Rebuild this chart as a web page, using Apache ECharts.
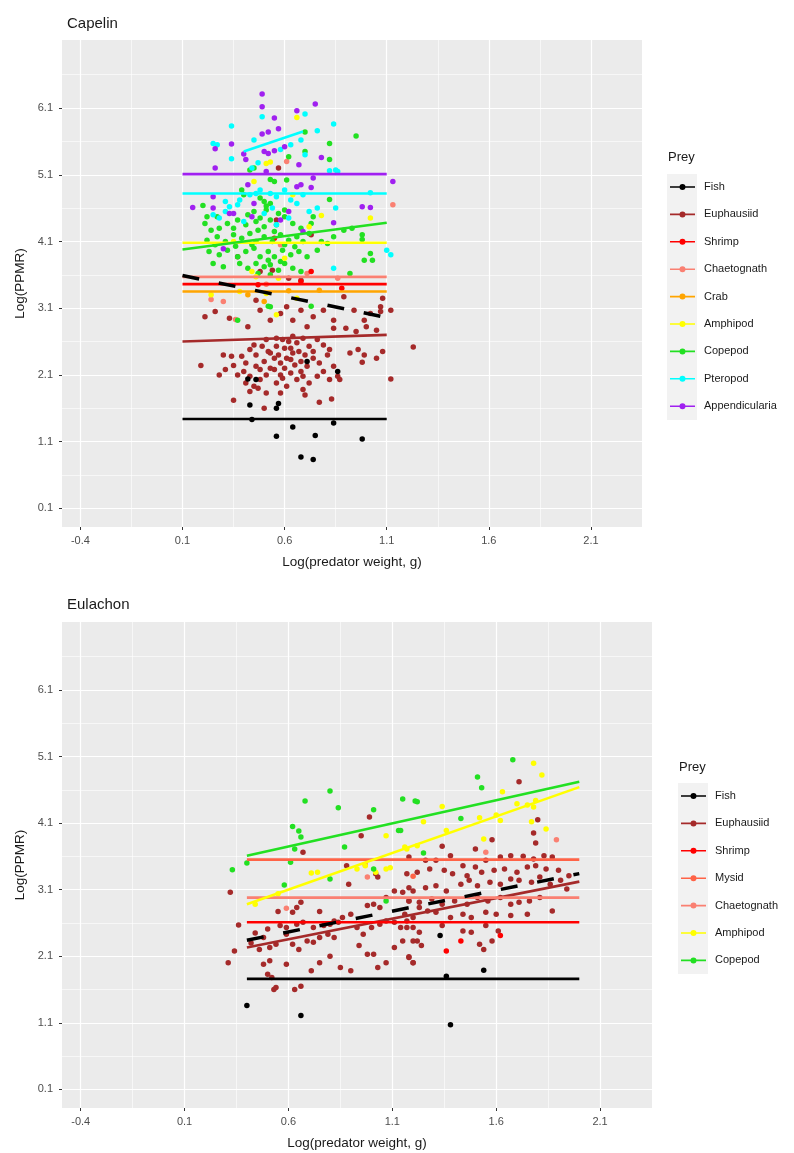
<!DOCTYPE html>
<html>
<head>
<meta charset="utf-8">
<script src="https://cdn.jsdelivr.net/npm/echarts@6/dist/echarts.min.js"></script>
<style>
  html, body { margin: 0; padding: 0; background: #fff; }
  #chart { width: 794px; height: 1153px; }
</style>
</head>
<body>
<div id="chart"></div>
<script>
// axis ticks
const xTicks = [-0.4, 0.1, 0.6, 1.1, 1.6, 2.1];
const xMinor = [-0.15, 0.35, 0.85, 1.35, 1.85];
const yTicks = [0.1, 1.1, 2.1, 3.1, 4.1, 5.1, 6.1];
const yMinor = [0.6, 1.6, 2.6, 3.6, 4.6, 5.6, 6.6];
const xRange = [-0.49, 2.35];
const yRange = [-0.18, 7.12];

const preyColors = {
  Fish: '#000000', Euphausiid: '#A52A2A', Shrimp: '#FF0000', Mysid: '#FF6347',
  Chaetognath: '#FA8072', Crab: '#FFA500', Amphipod: '#FFFF00', Copepod: '#22E022',
  Pteropod: '#00FFFF', Appendicularia: '#A020F0'
};
const capPrey = ['Fish', 'Euphausiid', 'Shrimp', 'Chaetognath', 'Crab', 'Amphipod', 'Copepod', 'Pteropod', 'Appendicularia'];
const eulPrey = ['Fish', 'Euphausiid', 'Shrimp', 'Mysid', 'Chaetognath', 'Amphipod', 'Copepod'];

// ---- Capelin points [log weight, log PPMR]
const capEuphausiid = [[0.19,2.24],[0.30,2.40],[0.34,2.38],[0.35,2.24],[0.39,2.38],[0.41,2.28],[0.43,2.48],[0.46,2.40],[0.49,2.53],[0.51,2.63],
  [0.28,2.10],[0.31,2.18],[0.37,2.10],[0.40,2.15],[0.43,2.08],[0.46,2.23],[0.50,2.30],[0.53,2.43],[0.56,2.53],[0.59,2.63],[0.63,2.50],[0.66,2.58],[0.69,2.65],[0.72,2.53],[0.76,2.63],[0.79,2.55],[0.82,2.48],
  [0.41,1.98],[0.45,1.93],[0.48,2.03],[0.51,2.10],[0.55,2.18],[0.58,2.28],[0.61,2.35],[0.64,2.43],[0.68,2.30],[0.71,2.23],[0.74,2.35],[0.77,2.28],[0.81,2.40],[0.84,2.23],
  [0.43,1.85],[0.47,1.90],[0.51,1.83],[0.56,1.98],[0.59,2.05],[0.63,2.13],[0.66,2.03],[0.69,2.08],[0.72,1.98],[0.76,2.08],[0.79,2.15],[0.82,2.03],[0.86,2.08],[0.87,2.03],
  [0.35,1.72],[0.50,1.60],[0.58,1.83],[0.61,1.93],[0.69,1.88],[0.70,1.80],[0.77,1.69],[0.83,1.74],
  [0.92,2.43],[0.96,2.48],[0.99,2.40],[0.98,2.29],[1.05,2.35],[1.08,2.45],[1.23,2.52],[1.12,2.04],
  [0.55,2.35],[0.60,2.20],[0.65,2.25],[0.57,2.40],[0.62,2.60],[0.53,2.20],[0.67,2.45],[0.70,2.40],[0.48,2.18],[0.58,2.10],[0.52,2.45],[0.64,2.68],[0.56,2.65],[0.74,2.45],[0.45,2.55],[0.68,2.15],[0.60,2.50],[0.63,2.33],
  [0.33,2.95],[0.42,2.82],[0.46,3.22],[0.48,3.07],[0.53,2.92],[0.58,3.02],[0.61,3.12],[0.64,2.92],[0.68,3.07],[0.71,2.82],[0.74,2.97],[0.79,3.07],[0.84,2.92],[0.89,3.27],[0.94,3.07],[0.99,2.92],[1.02,3.02],[1.07,3.12],[1.08,3.25],[1.12,3.07],[0.84,2.80],[0.90,2.80],[0.95,2.75],[1.00,2.82],[1.05,2.77],
  [0.57,5.20],[0.56,4.42],[0.73,4.20],[0.37,3.87],[0.48,3.65],[0.54,3.67],[0.62,3.55],[0.68,3.52],[0.26,3.05],[0.21,2.97],[1.07,3.05]];
const capFish = [[0.43,1.65],[0.42,2.04],[0.46,2.03],[0.57,1.67],[0.56,1.60],[0.86,2.15],[0.71,2.30],[0.44,1.43],[0.84,1.38],[0.64,1.32],[0.56,1.18],[0.75,1.19],[0.98,1.14],[0.68,0.87],[0.74,0.83]];
const capChaetognath = [[0.61,5.30],[1.13,4.65],[0.24,3.23],[0.30,3.20],[0.51,3.46],[0.71,3.62],[0.86,3.55],[0.36,2.93],[0.58,4.05]];
const capShrimp = [[0.47,3.45],[0.68,3.50],[0.88,3.40],[0.55,4.15],[0.73,3.65]];
const capCrab = [[0.62,3.36],[0.42,3.30],[0.77,3.37],[0.50,3.20]];
const capCopepod = [[0.95,5.68],[0.82,5.57],[0.70,5.74],[0.70,5.45],[0.82,5.33],[0.62,5.37],[0.43,5.17],[0.45,5.20],[0.53,5.03],[0.55,5.00],[0.61,5.02],[0.20,4.64],[0.39,4.87],[0.40,4.80],[0.48,4.75],[0.50,4.70],[0.51,4.63],[0.51,4.57],[0.53,4.67],[0.60,4.57],[0.82,4.73],[0.22,4.47],[0.27,4.47],[0.74,4.47],
  [0.21,4.37],[0.24,4.27],[0.28,4.30],[0.32,4.37],[0.37,4.42],[0.41,4.35],[0.46,4.40],[0.50,4.32],[0.53,4.42],[0.56,4.35],[0.60,4.47],[0.64,4.37],[0.68,4.30],[0.73,4.37],
  [0.22,4.12],[0.27,4.17],[0.31,4.10],[0.35,4.20],[0.39,4.15],[0.43,4.22],[0.46,4.10],[0.50,4.17],[0.54,4.10],[0.58,4.20],[0.62,4.12],[0.66,4.17],[0.69,4.10],
  [0.23,3.95],[0.28,3.90],[0.32,3.97],[0.37,3.87],[0.41,3.95],[0.45,4.00],[0.48,3.87],[0.52,3.95],[0.55,3.87],[0.59,3.97],[0.63,3.90],[0.67,3.95],[0.71,3.87],
  [0.25,3.77],[0.30,3.72],[0.38,3.77],[0.42,3.70],[0.46,3.77],[0.50,3.72],[0.53,3.75],[0.57,3.67],[0.60,3.77],[0.64,3.70],[0.68,3.65],
  [0.76,3.97],[0.81,4.07],[0.84,4.17],[0.89,4.27],[0.93,4.30],[0.98,4.20],[0.98,4.13],[1.02,3.92],[1.03,3.82],[0.99,3.82],[0.92,3.62],
  [0.37,2.92],[0.53,3.12],[0.73,3.13],[0.52,3.13],
  [0.45,4.55],[0.57,4.52],[0.48,4.45],[0.42,4.50],[0.55,4.25],[0.47,4.27],[0.60,4.05],[0.44,4.05],[0.36,4.03],[0.52,3.82],[0.58,3.80],[0.26,4.05],[0.65,4.02],[0.72,4.22],[0.78,4.10],[0.35,4.30],[0.53,3.60],[0.47,3.62]];
const capAmphipod = [[0.66,5.96],[0.51,5.27],[0.53,5.29],[0.78,4.49],[1.02,4.45],[0.44,3.65],[0.46,3.57],[0.51,3.32],[0.56,3.00],[0.66,3.25],[0.60,3.85],[0.35,4.10],[0.57,3.55],[0.72,4.32],[0.45,5.00],[0.64,4.80],[0.38,3.35],[0.24,3.30]];
const capPteropod = [[0.49,5.97],[0.70,6.01],[0.34,5.83],[0.84,5.86],[0.76,5.76],[0.25,5.57],[0.27,5.55],[0.34,5.34],[0.45,5.62],[0.47,5.28],[0.70,5.40],[0.82,5.16],[0.85,5.17],
  [0.31,4.70],[0.33,4.62],[0.37,4.65],[0.38,4.72],[0.43,4.80],[0.46,4.82],[0.48,4.87],[0.53,4.82],[0.56,4.77],[0.60,4.87],[0.63,4.72],[0.66,4.67],[0.69,4.80],[0.76,4.60],[0.85,4.60],[1.02,4.83],
  [0.44,5.20],[1.10,3.97],[1.12,3.90],[0.84,3.70],[0.25,4.50],[0.28,4.45],[0.31,4.55],[0.50,4.52],[0.54,4.60],[0.40,4.40],[0.62,4.45],[0.56,4.35],[0.72,4.55],[0.86,5.15],[0.58,5.48],[0.63,5.55],[0.68,5.62]];
const capAppendicularia = [[0.49,6.31],[0.49,6.12],[0.75,6.16],[0.66,6.06],[0.55,5.95],[0.57,5.79],[0.49,5.71],[0.52,5.74],[0.34,5.56],[0.26,5.49],[0.40,5.41],[0.41,5.33],[0.50,5.45],[0.52,5.42],[0.55,5.46],[0.60,5.52],[0.78,5.36],[0.26,5.20],[0.67,5.25],[0.51,5.15],[0.74,5.05],[1.13,5.00],
  [0.25,4.77],[0.42,4.95],[0.66,4.92],[0.68,4.95],[0.73,4.91],[0.15,4.61],[0.25,4.60],[0.45,4.67],[0.98,4.62],[1.02,4.61],[0.33,4.52],[0.35,4.52],[0.84,4.38],[0.30,3.99],[0.44,4.47],[0.58,4.42],[0.62,4.55],[0.69,4.25]];

// ---- Capelin fitted lines [start, end]
const capLineFish = [[0.1,1.44],[1.1,1.44]];
const capLineEuphausiid = [[0.1,2.60],[1.1,2.70]];
const capLineShrimp = [[0.1,3.46],[1.1,3.46]];
const capLineChaetognath = [[0.1,3.57],[1.1,3.57]];
const capLineCrab = [[0.1,3.35],[1.1,3.35]];
const capLineAmphipod = [[0.1,4.08],[1.1,4.08]];
const capLineCopepod = [[0.1,3.98],[1.1,4.38]];
const capLinePteropod = [[0.1,4.82],[1.1,4.82]];
const capLinePteropodShort = [[0.40,5.45],[0.69,5.75]];
const capLineAppendicularia = [[0.1,5.11],[1.1,5.11]];
const capLineAll = [[0.1,3.59],[1.1,2.96]];

// ---- Eulachon points
const eulEuphausiid = [[0.32,3.06],[0.36,2.57],[0.34,2.18],[0.31,2.00],[0.62,2.76],[0.64,2.83],[0.66,2.91],[0.55,2.77],[0.75,2.77],[0.80,2.58],[0.84,2.61],[0.88,3.46],[0.89,3.18],[0.99,4.19],[0.95,3.91],[0.67,3.66],[1.02,3.34],[1.03,3.29],
  [0.98,2.86],[1.01,2.88],[1.04,2.83],[1.07,2.98],[1.11,3.08],[1.15,3.06],[1.18,2.93],[1.20,3.08],[1.23,2.83],
  [0.48,2.38],[0.51,2.23],[0.54,2.28],[0.59,2.43],[0.62,2.28],[0.65,2.20],[0.69,2.33],[0.72,2.31],[0.75,2.38],[0.79,2.43],[0.82,2.38],
  [0.48,1.98],[0.51,2.03],[0.50,1.83],[0.52,1.78],[0.53,1.60],[0.54,1.63],[0.59,1.98],[0.63,1.60],[0.66,1.65],
  [0.71,1.88],[0.75,2.00],[0.80,2.10],[0.85,1.93],[0.90,1.88],[0.94,2.26],[0.98,2.13],[1.01,2.13],[1.03,1.93],[1.07,2.00],[1.11,2.23],[1.15,2.33],[1.18,2.08],[1.20,2.00],[1.22,2.33],
  [0.93,2.53],[0.96,2.43],[1.00,2.53],[1.04,2.58],[1.07,2.63],[1.11,2.61],[1.14,2.53],[1.17,2.63],[1.20,2.53],
  [0.50,2.51],[0.56,2.56],[0.59,2.53],[0.64,2.58],[0.67,2.61],[0.72,2.53],[0.77,2.56],[0.82,2.63],[0.86,2.68],[0.90,2.73],[0.42,2.30],[0.44,2.45],[0.46,2.20],
  [1.71,4.72],[1.80,4.15],[1.78,3.95],[1.79,3.80],[1.58,3.85],[1.34,3.75],[1.50,3.71],
  [1.18,3.59],[1.26,3.54],[1.31,3.54],[1.38,3.61],[1.44,3.46],[1.50,3.44],[1.55,3.54],[1.62,3.59],[1.67,3.61],[1.73,3.60],[1.78,3.56],[1.83,3.61],[1.87,3.59],
  [1.17,3.34],[1.22,3.36],[1.28,3.41],[1.35,3.39],[1.39,3.34],[1.46,3.31],[1.53,3.36],[1.59,3.39],[1.64,3.41],[1.70,3.36],[1.75,3.44],[1.79,3.46],[1.84,3.41],[1.90,3.39],[1.95,3.31],
  [1.18,3.13],[1.26,3.13],[1.31,3.16],[1.36,3.08],[1.43,3.18],[1.47,3.24],[1.51,3.16],[1.57,3.21],[1.62,3.18],[1.67,3.26],[1.71,3.24],[1.77,3.21],[1.81,3.29],[1.86,3.18],[1.91,3.24],[1.94,3.11],
  [1.18,2.93],[1.23,2.91],[1.29,2.96],[1.34,2.88],[1.40,2.93],[1.46,2.88],[1.51,2.98],[1.56,2.93],[1.62,2.98],[1.67,2.88],[1.71,2.91],[1.76,2.93],[1.81,2.98],[1.87,2.78],
  [1.16,2.73],[1.20,2.68],[1.27,2.78],[1.31,2.76],[1.38,2.68],[1.44,2.73],[1.48,2.68],[1.55,2.76],[1.60,2.73],[1.67,2.71],[1.75,2.73],
  [1.17,2.53],[1.23,2.46],[1.34,2.56],[1.44,2.48],[1.48,2.46],[1.55,2.56],[1.61,2.48],
  [1.20,2.33],[1.24,2.26],[1.52,2.28],[1.58,2.33],[1.54,2.20],[1.18,2.09],[1.20,2.00]];
const eulFish = [[0.40,1.36],[0.66,1.21],[1.38,1.07],[1.36,1.80],[1.54,1.89],[1.33,2.41]];
const eulShrimp = [[1.62,2.41],[1.43,2.33],[1.36,2.18]];
const eulMysid = [[0.97,3.47],[1.20,3.30]];
const eulChaetognath = [[0.98,3.29],[1.89,3.85],[1.55,3.66],[0.59,2.82]];
const eulAmphipod = [[1.07,3.91],[0.71,3.35],[0.74,3.36],[0.93,3.41],[0.97,3.46],[1.02,3.36],[1.07,3.41],[1.09,3.43],[0.55,3.04],[0.44,2.88],[1.22,3.76],[1.17,3.71],
  [1.78,5.00],[1.82,4.82],[1.63,4.57],[1.34,4.35],[1.25,4.12],[1.52,4.18],[1.60,4.22],[1.62,4.14],[1.70,4.39],[1.75,4.37],[1.78,4.34],[1.79,4.44],[1.77,4.12],[1.84,4.01],[1.36,3.99],[1.54,3.86],[1.16,3.74]];
const eulCopepod = [[0.80,4.58],[0.68,4.43],[0.84,4.33],[1.01,4.30],[1.15,4.46],[1.22,4.42],[0.62,4.05],[0.65,3.98],[0.66,3.89],[0.63,3.71],[0.87,3.74],[1.13,3.99],[0.40,3.50],[0.33,3.40],[0.58,3.17],[0.80,3.26],[1.01,3.41],[0.61,3.51],[1.07,2.93],
  [1.68,5.05],[1.51,4.79],[1.53,4.63],[1.21,4.43],[1.43,4.17],[1.25,3.65],[1.14,3.99]];

// ---- Eulachon fitted lines
const eulLineFish = [[0.4,1.76],[2.0,1.76]];
const eulLineEuphausiid = [[0.4,2.23],[2.0,3.22]];
const eulLineShrimp = [[0.4,2.61],[2.0,2.61]];
const eulLineMysid = [[0.4,3.55],[2.0,3.55]];
const eulLineChaetognath = [[0.4,2.98],[2.0,2.98]];
const eulLineAmphipod = [[0.4,2.88],[2.0,4.64]];
const eulLineCopepod = [[0.4,3.61],[2.0,4.72]];
const eulLineAll = [[0.4,2.34],[2.0,3.34]];

const font = '"Liberation Sans", Arial, sans-serif';
const legendIcon = 'path://M0,2.2h25v1.6h-25z M12.5,0a3,3 0 1,1 -0.01,0z';

function majorX(g) {
  return {
    type: 'value', gridIndex: g, min: xRange[0], max: xRange[1], position: 'bottom',
    axisLine: { show: false, onZero: false },
    axisTick: { show: true, customValues: xTicks, length: 3, lineStyle: { color: '#333', width: 1 } },
    axisLabel: { customValues: xTicks, color: '#4d4d4d', fontSize: 11, fontFamily: font, margin: 8,
      formatter: v => v.toFixed(1) },
    splitLine: { show: true, lineStyle: { color: '#fff', width: 1.2 } },
    name: 'Log(predator weight, g)', nameLocation: 'middle', nameGap: 28,
    nameTextStyle: { color: '#1a1a1a', fontSize: 13.5, fontFamily: font }
  };
}
function minorX(g) {
  return {
    type: 'value', gridIndex: g, min: xRange[0], max: xRange[1], position: 'top',
    axisLine: { show: false, onZero: false }, axisLabel: { show: false },
    axisTick: { show: false, customValues: xMinor },
    splitLine: { show: true, lineStyle: { color: '#fff', width: 0.6 } }
  };
}
function majorY(g) {
  return {
    type: 'value', gridIndex: g, min: yRange[0], max: yRange[1], position: 'left',
    axisLine: { show: false, onZero: false },
    axisTick: { show: true, customValues: yTicks, length: 3, lineStyle: { color: '#333', width: 1 } },
    axisLabel: { customValues: yTicks, color: '#4d4d4d', fontSize: 11, fontFamily: font, margin: 9,
      formatter: v => v.toFixed(1) },
    splitLine: { show: true, lineStyle: { color: '#fff', width: 1.2 } },
    name: 'Log(PPMR)', nameLocation: 'middle', nameGap: 33,
    nameTextStyle: { color: '#1a1a1a', fontSize: 13.5, fontFamily: font }
  };
}
function minorY(g) {
  return {
    type: 'value', gridIndex: g, min: yRange[0], max: yRange[1], position: 'right',
    axisLine: { show: false, onZero: false }, axisLabel: { show: false },
    axisTick: { show: false, customValues: yMinor },
    splitLine: { show: true, lineStyle: { color: '#fff', width: 0.6 } }
  };
}

function pts(name, data, g) {
  return {
    type: 'scatter', name: name, data: data, xAxisIndex: g * 2, yAxisIndex: g * 2,
    symbolSize: 5.5, itemStyle: { color: preyColors[name], opacity: 1 }, silent: true
  };
}
function fit(name, data, g, color, dashed) {
  return {
    type: 'line', name: name, data: data, xAxisIndex: g * 2, yAxisIndex: g * 2,
    symbol: 'none', silent: true,
    lineStyle: dashed ? { color: color, width: 3.5, type: [17, 20] } : { color: color, width: 2.6 }
  };
}
function legendFor(names, left, top) {
  return {
    orient: 'vertical', left: left, top: top, padding: 0, itemWidth: 25, itemHeight: 6, itemGap: 13.4,
    selectedMode: false,
    textStyle: { fontSize: 11, color: '#1a1a1a', fontFamily: font, lineHeight: 14, padding: [0, 0, 0, 4] },
    data: names.map(n => ({ name: n, icon: legendIcon, itemStyle: { color: preyColors[n], borderWidth: 0 } }))
  };
}

const chart = echarts.init(document.getElementById('chart'), null, { renderer: 'canvas' });
chart.setOption({
  animation: false,
  backgroundColor: '#fff',
  title: [
    { text: 'Capelin', left: 62, top: 11, textStyle: { fontSize: 15, fontWeight: 'normal', color: '#1a1a1a', fontFamily: font } },
    { text: 'Eulachon', left: 62, top: 592, textStyle: { fontSize: 15, fontWeight: 'normal', color: '#1a1a1a', fontFamily: font } },
    { text: 'Prey', left: 663, top: 146, textStyle: { fontSize: 13, fontWeight: 'normal', color: '#1a1a1a', fontFamily: font } },
    { text: 'Prey', left: 674, top: 756, textStyle: { fontSize: 13, fontWeight: 'normal', color: '#1a1a1a', fontFamily: font } }
  ],
  graphic: [
    { type: 'rect', left: 667, top: 174, shape: { width: 30, height: 246 }, style: { fill: '#F2F2F2' }, z: -1 },
    { type: 'rect', left: 678, top: 783, shape: { width: 30, height: 191 }, style: { fill: '#F2F2F2' }, z: -1 }
  ],
  legend: [legendFor(capPrey, 670, 180), legendFor(eulPrey, 681, 789)],
  grid: [
    { left: 62, top: 40, width: 580, height: 487, show: true, backgroundColor: '#EBEBEB', borderWidth: 0 },
    { left: 62, top: 622, width: 590, height: 486, show: true, backgroundColor: '#EBEBEB', borderWidth: 0 }
  ],
  xAxis: [majorX(0), minorX(0), majorX(1), minorX(1)],
  yAxis: [majorY(0), minorY(0), majorY(1), minorY(1)],
  series: [
    pts('Euphausiid', capEuphausiid, 0),
    pts('Fish', capFish, 0),
    pts('Chaetognath', capChaetognath, 0),
    pts('Shrimp', capShrimp, 0),
    pts('Crab', capCrab, 0),
    pts('Copepod', capCopepod, 0),
    pts('Amphipod', capAmphipod, 0),
    pts('Pteropod', capPteropod, 0),
    pts('Appendicularia', capAppendicularia, 0),
    fit('Fish', capLineFish, 0, preyColors.Fish),
    fit('Euphausiid', capLineEuphausiid, 0, preyColors.Euphausiid),
    fit('Crab', capLineCrab, 0, preyColors.Crab),
    fit('Shrimp', capLineShrimp, 0, preyColors.Shrimp),
    fit('Chaetognath', capLineChaetognath, 0, preyColors.Chaetognath),
    fit('Amphipod', capLineAmphipod, 0, preyColors.Amphipod),
    fit('Copepod', capLineCopepod, 0, preyColors.Copepod),
    fit('Pteropod', capLinePteropod, 0, preyColors.Pteropod),
    fit('Pteropod', capLinePteropodShort, 0, preyColors.Pteropod),
    fit('Appendicularia', capLineAppendicularia, 0, preyColors.Appendicularia),
    fit('All prey', capLineAll, 0, '#000', true),

    pts('Euphausiid', eulEuphausiid, 1),
    pts('Fish', eulFish, 1),
    pts('Shrimp', eulShrimp, 1),
    pts('Mysid', eulMysid, 1),
    pts('Chaetognath', eulChaetognath, 1),
    pts('Amphipod', eulAmphipod, 1),
    pts('Copepod', eulCopepod, 1),
    fit('Fish', eulLineFish, 1, preyColors.Fish),
    fit('Euphausiid', eulLineEuphausiid, 1, preyColors.Euphausiid),
    fit('Shrimp', eulLineShrimp, 1, preyColors.Shrimp),
    fit('Chaetognath', eulLineChaetognath, 1, preyColors.Chaetognath),
    fit('Mysid', eulLineMysid, 1, preyColors.Mysid),
    fit('Amphipod', eulLineAmphipod, 1, preyColors.Amphipod),
    fit('Copepod', eulLineCopepod, 1, preyColors.Copepod),
    fit('All prey', eulLineAll, 1, '#000', true)
  ]
});
</script>
</body>
</html>
